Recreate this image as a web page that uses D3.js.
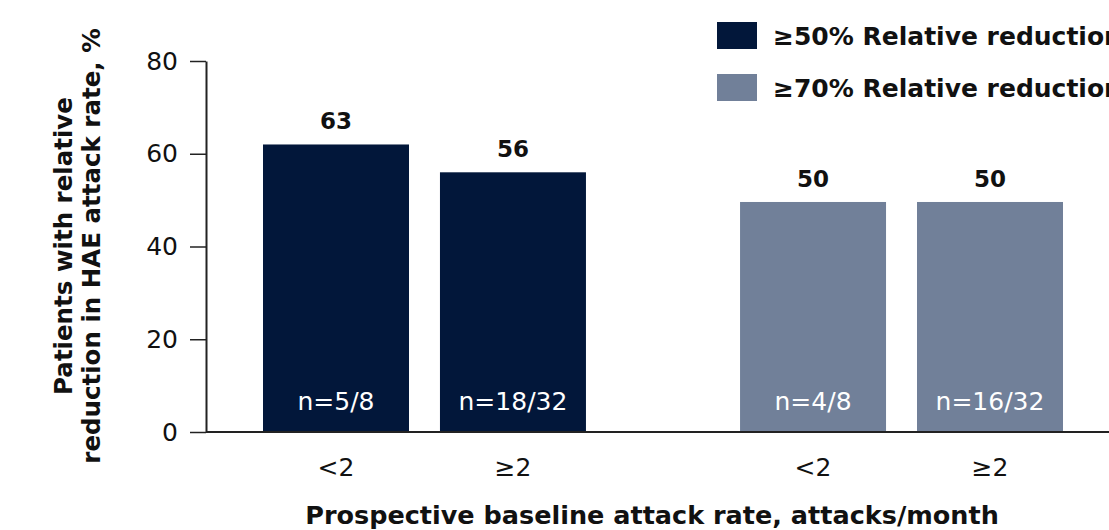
<!DOCTYPE html>
<html>
<head>
<meta charset="utf-8">
<script src="https://cdn.jsdelivr.net/npm/d3@7"></script>
<style>
  html, body { margin: 0; padding: 0; background: #fff; overflow: hidden; }
  svg { display: block; font-family: "DejaVu Sans", sans-serif; }
</style>
</head>
<body>
<div id="chart"></div>
<script>
/* ── Relative reduction in HAE attack rate by baseline attack rate ── */

const groups     = ['≥50% Relative reduction', '≥70% Relative reduction'];
const subgroups  = ['<2', '≥2'];
const values50   = [62, 56];
const values70   = [49.6, 49.6];
const valueLabels50 = ['63', '56'];
const valueLabels70 = ['50', '50'];
const nLabels50  = ['n=5/8', 'n=18/32'];
const nLabels70  = ['n=4/8', 'n=16/32'];
const yTicks     = [0, 20, 40, 60, 80];
const colors     = ['#02173a', '#718099'];

const series = [values50, values70];
const valueLabels = [valueLabels50, valueLabels70];
const nLabels = [nLabels50, nLabels70];

const rows = [];
groups.forEach((g, gi) => {
  subgroups.forEach((s, si) => {
    rows.push({ group: g, sub: s, gi, value: series[gi][si],
      label: valueLabels[gi][si], n: nLabels[gi][si] });
  });
});

const width = 1109, height = 530;
const axisX = 206;

const svg = d3.select('#chart').append('svg')
  .attr('width', width)
  .attr('height', height);

const y = d3.scaleLinear().domain([0, 80]).range([432, 61]);

const x0 = d3.scaleBand().domain(groups).range([263, 1063]).paddingInner(0.323);
const x1 = d3.scaleBand().domain(subgroups).range([0, x0.bandwidth()]).paddingInner(0.175);

// Y axis
const yAxis = svg.append('g')
  .attr('transform', `translate(${axisX},0)`)
  .call(d3.axisLeft(y).tickValues(yTicks).tickSize(16).tickSizeOuter(0).tickPadding(12));
yAxis.select('.domain').attr('stroke', '#222').attr('stroke-width', 2);
yAxis.selectAll('.tick line').attr('stroke', '#222').attr('stroke-width', 1.5);
yAxis.selectAll('.tick text')
  .attr('font-size', 25)
  .attr('fill', '#111')
  .attr('font-family', '"DejaVu Sans", sans-serif');

// Bars
const bars = svg.append('g').selectAll('g')
  .data(rows)
  .join('g')
  .attr('transform', d => `translate(${x0(d.group) + x1(d.sub)},0)`);

bars.append('rect')
  .attr('x', 0)
  .attr('y', d => y(d.value))
  .attr('width', x1.bandwidth())
  .attr('height', d => y(0) - y(d.value))
  .attr('fill', d => colors[d.gi]);

// Value labels above bars
bars.append('text')
  .attr('x', x1.bandwidth() / 2)
  .attr('y', d => y(d.value) - 15)
  .attr('text-anchor', 'middle')
  .attr('font-size', 23)
  .attr('font-weight', 'bold')
  .attr('fill', '#111')
  .text(d => d.label);

// n labels inside bars
bars.append('text')
  .attr('x', x1.bandwidth() / 2)
  .attr('y', 410)
  .attr('text-anchor', 'middle')
  .attr('font-size', 25)
  .attr('fill', '#fff')
  .text(d => d.n);

// X axis line
svg.append('line')
  .attr('x1', axisX).attr('x2', width)
  .attr('y1', y(0)).attr('y2', y(0))
  .attr('stroke', '#222')
  .attr('stroke-width', 2);

// X tick labels
svg.append('g').selectAll('text')
  .data(rows)
  .join('text')
  .attr('x', d => x0(d.group) + x1(d.sub) + x1.bandwidth() / 2)
  .attr('y', 476)
  .attr('text-anchor', 'middle')
  .attr('font-size', 25)
  .attr('fill', '#111')
  .text(d => d.sub);

// X axis title
svg.append('text')
  .attr('x', 652)
  .attr('y', 524)
  .attr('text-anchor', 'middle')
  .attr('font-size', 25.5)
  .attr('font-weight', 'bold')
  .attr('fill', '#111')
  .text('Prospective baseline attack rate, attacks/month');

// Y axis title (two lines)
const yTitle = svg.append('text')
  .attr('transform', 'translate(0,246) rotate(-90)')
  .attr('text-anchor', 'middle')
  .attr('font-size', 24.5)
  .attr('font-weight', 'bold')
  .attr('fill', '#111');
yTitle.append('tspan').attr('x', 0).attr('y', 72).text('Patients with relative');
yTitle.append('tspan').attr('x', 0).attr('y', 100).text('reduction in HAE attack rate, %');

// Legend
const legend = svg.append('g').selectAll('g')
  .data(groups)
  .join('g')
  .attr('transform', (d, i) => `translate(717,${22 + i * 52})`);

legend.append('rect')
  .attr('width', 40)
  .attr('height', 27)
  .attr('fill', (d, i) => colors[i]);

legend.append('text')
  .attr('x', 56)
  .attr('y', 23)
  .attr('font-size', 25)
  .attr('font-weight', 600)
  .attr('fill', '#111')
  .text(d => d);
</script>
</body>
</html>
